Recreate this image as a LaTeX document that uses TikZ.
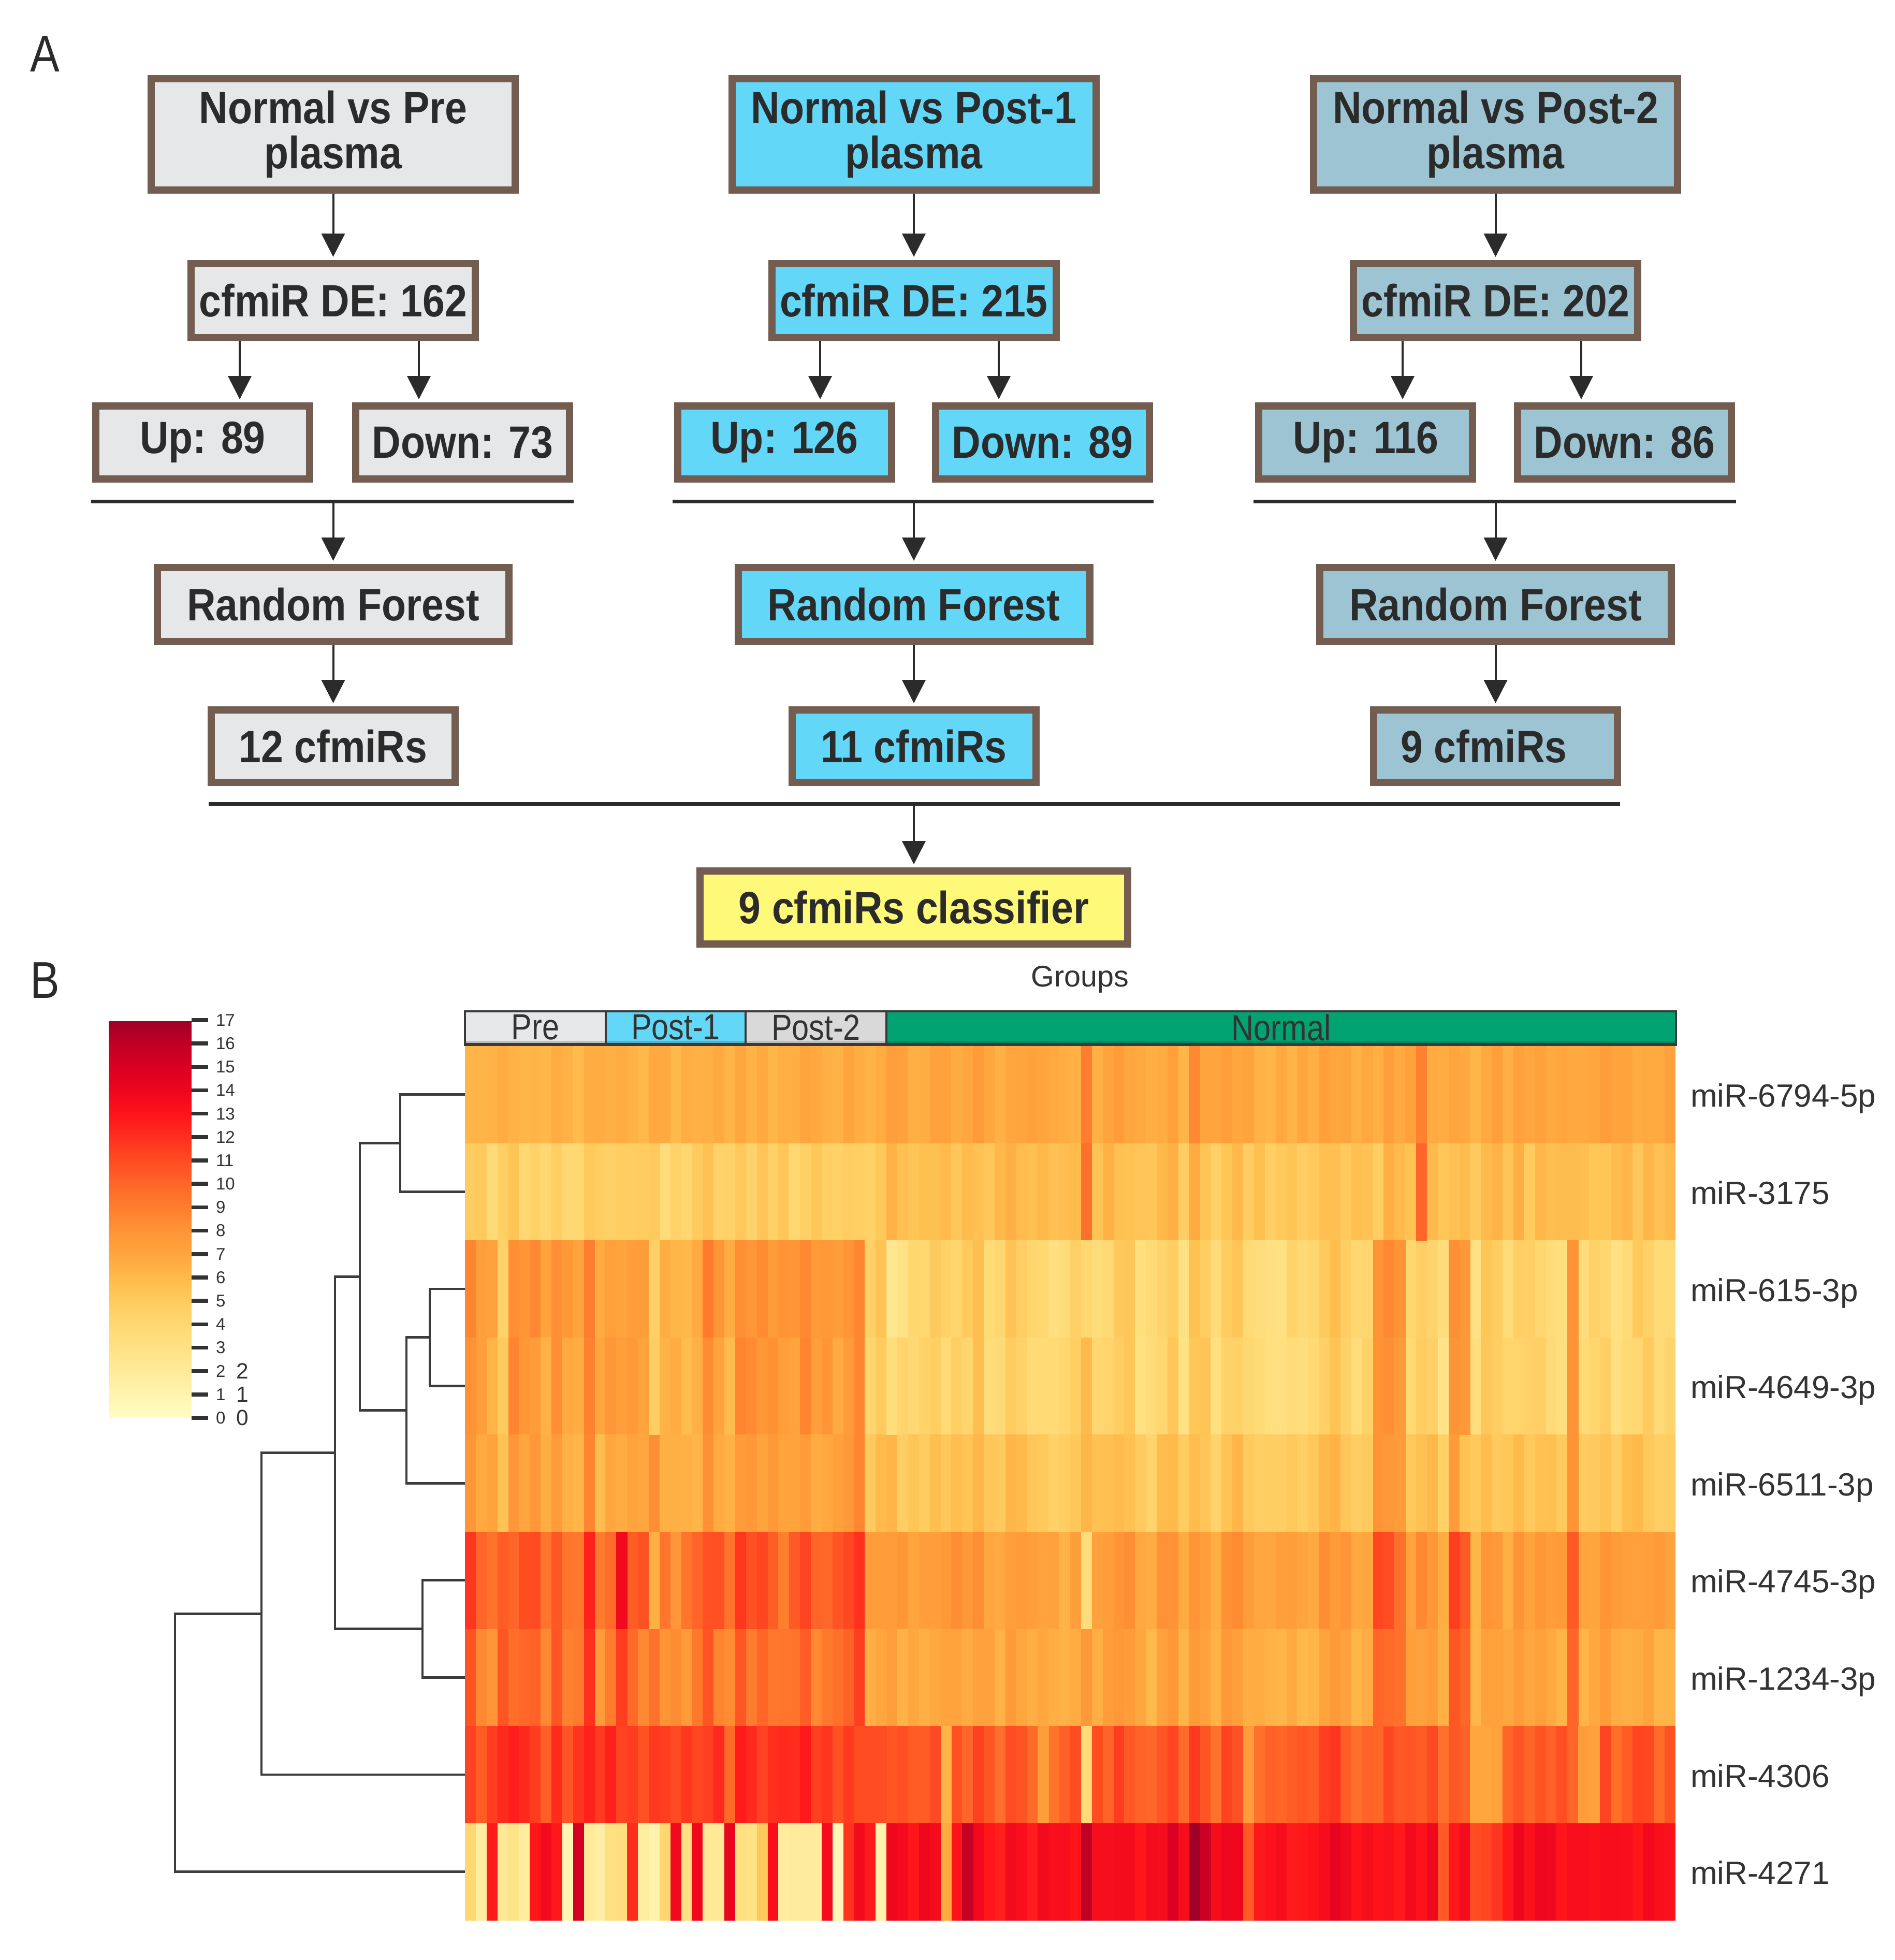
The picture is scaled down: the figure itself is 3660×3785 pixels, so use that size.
\documentclass[tikz,border=0pt]{standalone}
\usepackage{fontspec}
\setmainfont{Liberation Sans}
\newfontfamily\boxfont[FakeStretch=0.88]{Liberation Sans}
\newfontfamily\narrowfont[FakeStretch=0.85]{Liberation Sans}
\usetikzlibrary{arrows.meta}

\definecolor{bord}{HTML}{725D50}
\definecolor{fillA}{HTML}{E6E7E9}
\definecolor{fillB}{HTML}{62D7F7}
\definecolor{fillC}{HTML}{9CC4D2}
\definecolor{fillY}{HTML}{FFF97A}
\definecolor{ink}{HTML}{2B2B2B}
\definecolor{gtext}{HTML}{333333}
\definecolor{gbord}{HTML}{3A3A3A}
\definecolor{dendc}{HTML}{3C3C3C}
\definecolor{grpPost}{HTML}{D9D9D9}
\definecolor{grpNorm}{HTML}{00A371}
\definecolor{stripA}{HTML}{BDBEC0}
\definecolor{stripB}{HTML}{4DB3CF}
\definecolor{stripC}{HTML}{BDBDBD}
\definecolor{stripN}{HTML}{008A5E}

\definecolor{c0}{HTML}{FFFDC6}
\definecolor{c1}{HTML}{FFF3AE}
\definecolor{c2}{HTML}{FFEA9A}
\definecolor{c3}{HTML}{FFE285}
\definecolor{c4}{HTML}{FFD872}
\definecolor{c5}{HTML}{FFCB5E}
\definecolor{c6}{HTML}{FFBA4B}
\definecolor{c7}{HTML}{FFA63E}
\definecolor{c8}{HTML}{FF9436}
\definecolor{c9}{HTML}{FF7D2E}
\definecolor{c10}{HTML}{FF6628}
\definecolor{c11}{HTML}{FF4C22}
\definecolor{c12}{HTML}{FF301E}
\definecolor{c13}{HTML}{FF141A}
\definecolor{c14}{HTML}{EE061E}
\definecolor{c15}{HTML}{DA0022}
\definecolor{c16}{HTML}{C20026}
\definecolor{c17}{HTML}{9E0028}

\newcommand\hmcolor[1]{%
  \pgfmathsetmacro\hmv{max(0,min(16.999,#1))}%
  \pgfmathtruncatemacro\hmlo{floor(\hmv)}%
  \pgfmathtruncatemacro\hmhi{\hmlo+1}%
  \pgfmathtruncatemacro\hmpc{round((\hmv-\hmlo)*100)}%
  \colorlet{hmc}{c\hmhi!\hmpc!c\hmlo}%
}
\newcommand\hmcell[3]{%
  \hmcolor{#3}%
  \pgfmathsetmacro\hx{898+(#1-1)*20.875}%
  \pgfmathsetmacro\hy{2020+(#2-1)*187.6}%
  \fill[hmc] (\hx,\hy) rectangle ++(21.3,188);%
}

\def\meanP{{6.5,4.6,7.6,7.4,7.1,10.0,9.2,11.6,0}}
\def\sprP{{0.5,0.7,0.6,0.6,0.5,1.0,0.8,1.0,0.3}}
\def\corP{{0.2,0.4,1.0,1.0,0.8,1.2,1.0,0.8,0}}
\def\meanN{{6.9,5.7,4.3,4.3,5.4,7.4,7.0,10.6,13.4}}
\def\sprN{{0.5,0.8,0.6,0.6,0.5,0.6,0.5,0.7,0.6}}
\def\corN{{0.3,0.5,1.0,1.0,0.7,0.7,0.6,0.6,0.4}}
\def\rowNine{{4,2,13,2,3,2,13,14,13,1,15,2,1.5,3,3,12,2,1,4,14,3,14,2,2,14,3,3,5,13,2,2,2,2,13.5,0.5,12,13.5,13,1}}

\begin{document}
\begin{tikzpicture}[x=0.2pt,y=-0.2pt,
  fbox/.style={draw=bord,line width=2.8pt,text=ink,inner sep=0pt,align=center,
    font=\boxfont\bfseries\fontsize{17.5pt}{17.4pt}\selectfont},
  arr/.style={draw=ink,line width=0.8pt,-{Triangle[length=9pt,width=9pt]},shorten >=1.2pt},
  sepline/.style={draw=ink,line width=1.4pt},
  dend/.style={draw=dendc,line width=0.95pt},
  rowlab/.style={anchor=base west,inner sep=0pt,text=gtext,font=\fontsize{12.4pt}{14pt}\selectfont},
  grplab/.style={inner sep=0pt,text=gtext,font=\narrowfont\fontsize{14pt}{16pt}\selectfont},
  ticklab/.style={anchor=west,inner sep=0pt,text=gtext,font=\fontsize{6.6pt}{7pt}\selectfont},
  ticklabb/.style={anchor=west,inner sep=0pt,text=gtext,font=\fontsize{8.5pt}{9pt}\selectfont},
  tickmark/.style={draw=gtext,line width=1.5pt},
  panel/.style={inner sep=0pt,text=ink,font=\narrowfont\fontsize{20pt}{22pt}\selectfont},
]
\fill[white] (0,0) rectangle (3660,3785);
\useasboundingbox (0,0) rectangle (3660,3785);

% ---------------- Panel A ----------------
\node[panel] (labA) at (87,104) {A};

\node[fbox,fill=fillA,minimum width=140.6pt,minimum height=43pt] (top1) at (643.5,259.5) {Normal vs Pre\\plasma};
\node[fbox,fill=fillB,minimum width=140.6pt,minimum height=43pt] (top2) at (1765,259.5) {Normal vs Post-1\\plasma};
\node[fbox,fill=fillC,minimum width=140.6pt,minimum height=43pt] (top3) at (2888.5,259.5) {Normal vs Post-2\\plasma};

\node[fbox,fill=fillA,minimum width=109.8pt,minimum height=28.6pt] (de1) at (643.5,580.5) {cfmiR DE: 162};
\node[fbox,fill=fillB,minimum width=109.8pt,minimum height=28.6pt] (de2) at (1765,580.5) {cfmiR DE: 215};
\node[fbox,fill=fillC,minimum width=109.8pt,minimum height=28.6pt] (de3) at (2888.5,580.5) {cfmiR DE: 202};

\node[fbox,fill=fillA,minimum width=82.6pt,minimum height=28.2pt] (up1) at (391.5,854.5) {Up: 89};
\node[fbox,fill=fillA,minimum width=82.6pt,minimum height=28.2pt] (dn1) at (893.5,854.5) {Down: 73};
\node[fbox,fill=fillB,minimum width=82.6pt,minimum height=28.2pt] (up2) at (1515,854.5) {Up: 126};
\node[fbox,fill=fillB,minimum width=82.6pt,minimum height=28.2pt] (dn2) at (2013.5,854.5) {Down: 89};
\node[fbox,fill=fillC,minimum width=82.6pt,minimum height=28.2pt] (up3) at (2637.5,854.5) {Up: 116};
\node[fbox,fill=fillC,minimum width=82.6pt,minimum height=28.2pt] (dn3) at (3137.5,854.5) {Down: 86};

\node[fbox,fill=fillA,minimum width=135.8pt,minimum height=28.6pt] (rf1) at (643.5,1167.5) {Random Forest};
\node[fbox,fill=fillB,minimum width=135.8pt,minimum height=28.6pt] (rf2) at (1765,1167.5) {Random Forest};
\node[fbox,fill=fillC,minimum width=135.8pt,minimum height=28.6pt] (rf3) at (2888.5,1167.5) {Random Forest};

\node[fbox,fill=fillA,minimum width=94.2pt,minimum height=28pt] (cf1) at (643.5,1441) {12 cfmiRs};
\node[fbox,fill=fillB,minimum width=94.2pt,minimum height=28pt] (cf2) at (1765,1441) {11 cfmiRs};
\node[fbox,fill=fillC,minimum width=94.2pt,minimum height=28pt] (cf3) at (2888.5,1441) {9 cfmiRs\hspace*{9pt}};

\node[fbox,fill=fillY,minimum width=165.2pt,minimum height=28.2pt] (cls) at (1765,1752.5) {9 cfmiRs classifier};

% arrows top -> DE
\draw[arr] (top1) -- (de1);
\draw[arr] (top2) -- (de2);
\draw[arr] (top3) -- (de3);
% DE -> up/down
\coordinate (x1u) at (463,0);  \coordinate (x1d) at (809,0);
\coordinate (x2u) at (1584,0); \coordinate (x2d) at (1929,0);
\coordinate (x3u) at (2709,0); \coordinate (x3d) at (3054,0);
\draw[arr] (de1.south -| x1u) -- (up1.north -| x1u);
\draw[arr] (de1.south -| x1d) -- (dn1.north -| x1d);
\draw[arr] (de2.south -| x2u) -- (up2.north -| x2u);
\draw[arr] (de2.south -| x2d) -- (dn2.north -| x2d);
\draw[arr] (de3.south -| x3u) -- (up3.north -| x3u);
\draw[arr] (de3.south -| x3d) -- (dn3.north -| x3d);
% separators
\coordinate (s1w) at (176,968);  \coordinate (s1e) at (1108,968); \coordinate (s1c) at (643.5,968);
\coordinate (s2w) at (1299,968); \coordinate (s2e) at (2228,968); \coordinate (s2c) at (1765,968);
\coordinate (s3w) at (2421,968); \coordinate (s3e) at (3353,968); \coordinate (s3c) at (2888.5,968);
\draw[sepline] (s1w) -- (s1e);
\draw[sepline] (s2w) -- (s2e);
\draw[sepline] (s3w) -- (s3e);
\draw[arr] (s1c) -- (rf1);
\draw[arr] (s2c) -- (rf2);
\draw[arr] (s3c) -- (rf3);
\draw[arr] (rf1) -- (cf1);
\draw[arr] (rf2) -- (cf2);
\draw[arr] (rf3) -- (cf3);
\coordinate (s4w) at (403,1552); \coordinate (s4e) at (3129,1552); \coordinate (s4c) at (1765,1552);
\draw[sepline] (s4w) -- (s4e);
\draw[arr] (s4c) -- (cls);

% ---------------- Panel B ----------------
\node[panel] (labB) at (87,1893) {B};
\node[inner sep=0pt,text=gtext,font=\fontsize{11.5pt}{13pt}\selectfont] (grp) at (2086,1891) {Groups};

% heatmap
\pgfmathsetseed{4711}
\foreach \c in {1,...,112}{
  \pgfmathsetmacro\coff{rand}
  \pgfmathtruncatemacro\grp{\c>39 ? 1 : 0}
  \foreach \r in {1,...,9}{
    \ifnum\grp=0
      \pgfmathsetmacro\hmmu{\meanP[\r-1]}
      \pgfmathsetmacro\hmsp{\sprP[\r-1]}
      \pgfmathsetmacro\hmco{\corP[\r-1]}
      \ifnum\r=9 \pgfmathsetmacro\hmmu{\rowNine[\c-1]}\fi
    \else
      \pgfmathsetmacro\hmmu{\meanN[\r-1]}
      \pgfmathsetmacro\hmsp{\sprN[\r-1]}
      \pgfmathsetmacro\hmco{\corN[\r-1]}
    \fi
    \pgfmathsetmacro\hmval{\hmmu+\hmco*\coff+\hmsp*rand}
    \hmcell{\c}{\r}{\hmval}
  }
}
% distinctive cells
\foreach \c/\r/\v in {4/3/4.5,4/4/5,4/5/5.5,
  12/3/9,12/4/8.8,12/5/8.6,12/6/12.5,12/7/12,12/8/12.5,
  15/6/13.8,15/7/11.5,18/3/4.6,18/4/4.8,18/6/6.5,
  37/3/8.6,37/4/8.6,37/5/8.6,37/6/12,37/7/11.5,37/8/11,
  38/3/4.6,38/4/4.2,38/5/5,38/6/7.5,38/7/6.5,38/8/11,
  39/3/5.5,39/4/5,39/5/6,39/6/7.5,39/7/7,39/8/11,
  40/3/2.5,41/3/3,40/4/3.5,
  45/8/6.3,45/9/6.8,47/9/15.8,54/8/7.5,
  58/1/9,58/2/9.5,58/3/4,58/4/6,58/5/6.2,58/6/3.6,58/7/7.8,58/8/3.8,58/9/16,
  66/9/15,68/1/8.5,68/9/17,69/9/15.6,73/8/7.5,73/9/10.5,
  85/3/8,85/4/8,85/5/8,85/6/11.2,85/7/10,
  86/3/8.5,86/4/8.2,86/5/7.8,86/6/11,86/7/9.8,
  87/3/8,87/4/7.6,87/5/7.6,87/6/9.5,87/7/9.5,
  89/1/8.8,89/2/10,91/9/10.5,
  92/3/8.2,92/4/8,92/5/7.6,92/6/11.5,92/7/10.6,
  93/3/7.8,93/4/7.8,93/6/10.5,93/7/10,
  94/8/7,95/8/7,96/8/7.2,94/9/11,95/9/11.2,96/9/11.8,
  103/3/8,103/4/8,103/5/8,103/6/10.5,103/7/10,103/8/10,
  104/8/7.5,105/8/7.3}{\hmcell{\c}{\r}{\v}}

% group bar
\fill[gbord] (896,1951) rectangle (3239,2020);
\fill[fillA] (900,1955) rectangle (1168,2014);
\fill[fillB] (1172,1955) rectangle (1438,2014);
\fill[grpPost] (1442,1955) rectangle (1710,2014);
\fill[grpNorm] (1714,1955) rectangle (3235,2014);
\fill[stripA] (900,2010) rectangle (1168,2014);
\fill[stripB] (1172,2010) rectangle (1438,2014);
\fill[stripC] (1442,2010) rectangle (1710,2014);
\fill[stripN] (1714,2010) rectangle (3235,2014);
\node[grplab] (gPre) at (1034,1984) {Pre};
\node[grplab] (gPost1) at (1305,1984) {Post-1};
\node[grplab] (gPost2) at (1576,1984) {Post-2};
\node[grplab] (gNorm) at (2474.5,1984) {Normal};

% row labels
\node[rowlab] (rl1) at (3264,2137.8) {miR-6794-5p};
\node[rowlab] (rl2) at (3264,2325.4) {miR-3175};
\node[rowlab] (rl3) at (3264,2513.0) {miR-615-3p};
\node[rowlab] (rl4) at (3264,2700.6) {miR-4649-3p};
\node[rowlab] (rl5) at (3264,2888.2) {miR-6511-3p};
\node[rowlab] (rl6) at (3264,3075.8) {miR-4745-3p};
\node[rowlab] (rl7) at (3264,3263.4) {miR-1234-3p};
\node[rowlab] (rl8) at (3264,3451.0) {miR-4306};
\node[rowlab] (rl9) at (3264,3638.6) {miR-4271};

% dendrogram
\coordinate (l1) at (898,2113.8);
\coordinate (l2) at (898,2301.4);
\coordinate (l3) at (898,2489.0);
\coordinate (l4) at (898,2676.6);
\coordinate (l5) at (898,2864.2);
\coordinate (l6) at (898,3051.8);
\coordinate (l7) at (898,3239.4);
\coordinate (l8) at (898,3427.0);
\coordinate (l9) at (898,3614.6);
\coordinate (m12) at (773,2207.6);
\coordinate (m34) at (830,2582.8);
\coordinate (m345) at (785,2723.5);
\coordinate (m15) at (695,2465.6);
\coordinate (m67) at (816,3145.6);
\coordinate (m17) at (647,2805.6);
\coordinate (m18) at (505,3116.3);
\coordinate (m19) at (338,3365.5);
\draw[dend] (l1) -| (m12) |- (l2);
\draw[dend] (l3) -| (m34) |- (l4);
\draw[dend] (m34) -| (m345) |- (l5);
\draw[dend] (m12) -| (m15) |- (m345);
\draw[dend] (l6) -| (m67) |- (l7);
\draw[dend] (m15) -| (m17) |- (m67);
\draw[dend] (m17) -| (m18) |- (l8);
\draw[dend] (m18) -| (m19) |- (l9);

% colour legend
\foreach \i in {0,...,169}{
  \pgfmathsetmacro\lv{\i/10+0.05}
  \hmcolor{\lv}
  \pgfmathsetmacro\ly{2738-(\i+1)*4.506}
  \fill[hmc] (210,\ly) rectangle (370,{\ly+4.9});
}
\foreach \v in {0,...,17}{
  \pgfmathsetmacro\ty{2738-\v*45.18}
  \draw[tickmark] (370,\ty) -- (402,\ty);
  \node[ticklab] (tl\v) at (416,\ty) {\v};
}
\node[ticklabb] (tlb2) at (455,2647.6) {2};
\node[ticklabb] (tlb1) at (455,2692.8) {1};
\node[ticklabb] (tlb0) at (455,2738.0) {0};
\end{tikzpicture}
\end{document}
